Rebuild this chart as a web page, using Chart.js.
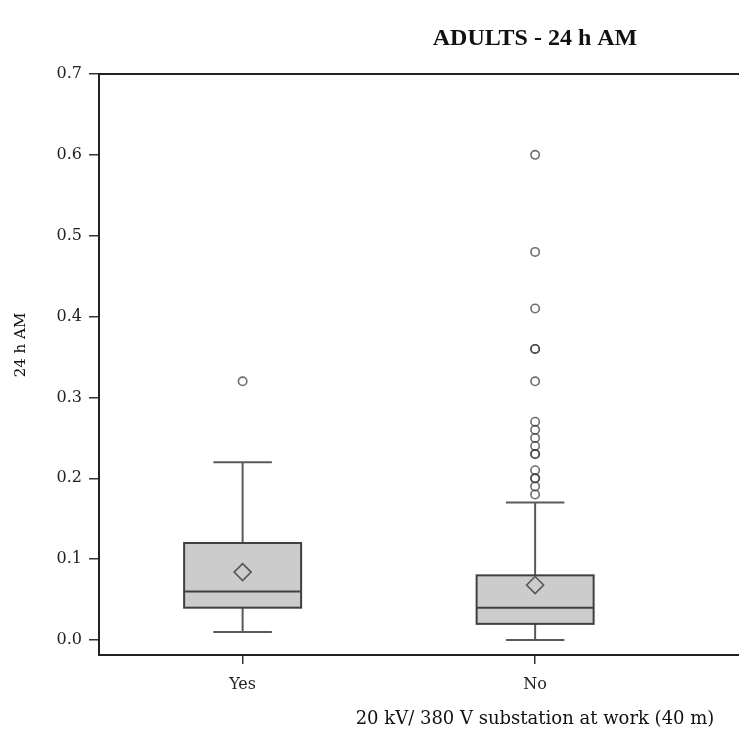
<!DOCTYPE html>
<html>
<head>
<meta charset="utf-8">
<script src="https://cdn.jsdelivr.net/npm/chart.js@4.4.0/dist/chart.umd.min.js"></script>
<style>
  html, body { margin: 0; padding: 0; background: #fff; overflow: hidden; }
  .wrap { width: 739px; height: 733px; position: relative; }
</style>
</head>
<body>
<div class="wrap"><canvas id="chartAM"></canvas></div>
<script>
// dados
var groups = ['Yes', 'No'];
var groupPos = [1, 2];
var whiskerLow = [0.01, 0.0];
var q1 = [0.04, 0.02];
var median = [0.06, 0.04];
var q3 = [0.12, 0.08];
var whiskerHigh = [0.22, 0.17];
var means = [0.084, 0.068];
var outliersYes = [0.32];
var outliersNo = [0.60, 0.48, 0.41, 0.36, 0.36, 0.32, 0.27, 0.26, 0.25, 0.24, 0.23, 0.23, 0.21, 0.20, 0.20, 0.19, 0.18];
var yTicks = [0, 0.1, 0.2, 0.3, 0.4, 0.5, 0.6, 0.7];

var serif = '"DejaVu Serif", serif';

// caixas, bigodes e medianas
var boxPlugin = {
    id: 'boxes',
    beforeDatasetsDraw: function(chart) {
        var ctx = chart.ctx, xs = chart.scales.x, ys = chart.scales.y;
        ctx.save();
        groupPos.forEach(function(g, i) {
            var cx = xs.getPixelForValue(g);
            var left = xs.getPixelForValue(g - 0.2), right = xs.getPixelForValue(g + 0.2);
            var capL = xs.getPixelForValue(g - 0.1), capR = xs.getPixelForValue(g + 0.1);
            var yq1 = ys.getPixelForValue(q1[i]), yq3 = ys.getPixelForValue(q3[i]);
            var ylo = ys.getPixelForValue(whiskerLow[i]), yhi = ys.getPixelForValue(whiskerHigh[i]);
            var ymed = ys.getPixelForValue(median[i]);

            ctx.strokeStyle = '#5a5a5a';
            ctx.lineWidth = 2;
            ctx.beginPath();
            ctx.moveTo(cx, yq3); ctx.lineTo(cx, yhi);
            ctx.moveTo(capL, yhi); ctx.lineTo(capR, yhi);
            ctx.moveTo(cx, yq1); ctx.lineTo(cx, ylo);
            ctx.moveTo(capL, ylo); ctx.lineTo(capR, ylo);
            ctx.stroke();

            ctx.fillStyle = '#cccccc';
            ctx.fillRect(left, yq3, right - left, yq1 - yq3);
            ctx.strokeStyle = '#404040';
            ctx.strokeRect(left, yq3, right - left, yq1 - yq3);
            ctx.beginPath();
            ctx.moveTo(left, ymed); ctx.lineTo(right, ymed);
            ctx.stroke();
        });
        ctx.restore();
    },
    afterDraw: function(chart) {
        var ctx = chart.ctx, a = chart.chartArea;
        ctx.save();
        // linha de cima da moldura
        ctx.strokeStyle = '#222';
        ctx.lineWidth = 2;
        ctx.beginPath();
        ctx.moveTo(a.left - 1, a.top);
        ctx.lineTo(a.right, a.top);
        ctx.stroke();
        ctx.fillStyle = '#111';
        ctx.textAlign = 'center';
        ctx.textBaseline = 'middle';
        ctx.font = 'bold 24px "Liberation Serif", serif';
        ctx.fillText('ADULTS - 24 h AM', 535, 39);
        ctx.font = '18px ' + serif;
        ctx.fillText('20 kV/ 380 V substation at work (40 m)', 535, 719);
        ctx.font = '15px ' + serif;
        ctx.translate(21, 345);
        ctx.rotate(-Math.PI / 2);
        ctx.fillText('24 h AM', 0, 0);
        ctx.restore();
    }
};

function toPoints(pos, values) {
    return values.map(function(v) { return { x: pos, y: v }; });
}

new Chart(document.getElementById('chartAM'), {
    type: 'scatter',
    data: {
        datasets: [{
            label: 'outliers',
            data: toPoints(groupPos[0], outliersYes).concat(toPoints(groupPos[1], outliersNo)),
            pointStyle: 'circle',
            pointRadius: 4.2,
            pointBorderWidth: 1.6,
            pointBorderColor: 'rgba(60,60,60,0.75)',
            pointBackgroundColor: 'rgba(255,255,255,0)'
        }, {
            label: 'mean',
            data: groupPos.map(function(g, i) { return { x: g, y: means[i] }; }),
            pointStyle: 'rectRot',
            pointRadius: 8.5,
            pointBorderWidth: 1.6,
            pointBorderColor: '#555',
            pointBackgroundColor: '#cccccc'
        }]
    },
    options: {
        responsive: true,
        maintainAspectRatio: false,
        animation: false,
        layout: { autoPadding: false, padding: { top: 74, right: 0, left: 0, bottom: 0 } },
        plugins: {
            legend: { display: false },
            tooltip: { enabled: false }
        },
        scales: {
            x: {
                type: 'linear',
                min: 0.509,
                max: 2.697,
                afterBuildTicks: function(s) { s.ticks = groupPos.map(function(v) { return { value: v }; }); },
                afterFit: function(s) { s.height = 78; s.paddingLeft = 0; s.paddingRight = 0; },
                ticks: {
                    callback: function(v) { return groups[groupPos.indexOf(v)]; },
                    font: { family: serif, size: 16 },
                    color: '#222',
                    padding: 11,
                    maxRotation: 0
                },
                grid: { drawOnChartArea: false, drawTicks: true, tickLength: 9, color: '#333', lineWidth: 1.5 },
                border: { display: true, color: '#222', width: 2 }
            },
            y: {
                min: -0.0185,
                max: 0.7,
                afterBuildTicks: function(s) { s.ticks = yTicks.map(function(v) { return { value: v }; }); },
                afterFit: function(s) { s.width = 99; s.paddingTop = 0; s.paddingBottom = 0; },
                ticks: {
                    callback: function(v) { return v.toFixed(1); },
                    font: { family: serif, size: 16 },
                    color: '#222',
                    padding: 7
                },
                grid: { drawOnChartArea: false, drawTicks: true, tickLength: 10, color: '#333', lineWidth: 1.5 },
                border: { display: true, color: '#222', width: 2 }
            }
        }
    },
    plugins: [boxPlugin]
});
</script>
</body>
</html>
